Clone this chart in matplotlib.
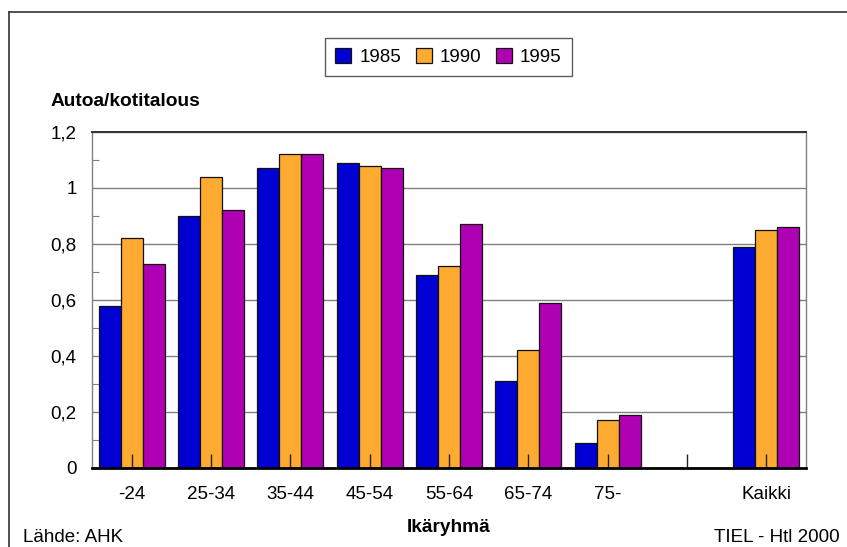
import matplotlib
matplotlib.use("Agg")
import matplotlib.pyplot as plt
import numpy as np
from matplotlib.ticker import MultipleLocator, FuncFormatter
from matplotlib.lines import Line2D

plt.rcParams['font.family'] = ['Liberation Sans', 'DejaVu Sans']

categories = ["-24", "25-34", "35-44", "45-54", "55-64", "65-74", "75-", "", "Kaikki"]
years = ["1985", "1990", "1995"]
v1985 = [0.58, 0.90, 1.07, 1.09, 0.69, 0.31, 0.09, 0.0, 0.79]
v1990 = [0.82, 1.04, 1.12, 1.08, 0.72, 0.42, 0.17, 0.0, 0.85]
v1995 = [0.73, 0.92, 1.12, 1.07, 0.87, 0.59, 0.19, 0.0, 0.86]
colors = ["#0000D2", "#FFAA30", "#B000B4"]

FS = 13.5
FSB = 13.8

fig = plt.figure(figsize=(8.47, 5.47), dpi=100)
ax = fig.add_axes([92/847, 1 - 468/547, (806-92)/847, (468-132)/547])

x = np.arange(len(categories))
w = 0.276
for i, (vals, c, lab) in enumerate(zip([v1985, v1990, v1995], colors, years)):
    ax.bar(x + (i - 1) * w, vals, width=w, color=c, edgecolor="#111111",
           linewidth=0.9, label=lab, zorder=3)

ax.set_xlim(-0.5, len(categories) - 0.5)
ax.set_ylim(0, 1.2)
ax.yaxis.set_major_locator(MultipleLocator(0.2))
ax.yaxis.set_minor_locator(MultipleLocator(0.1))
ax.yaxis.set_major_formatter(FuncFormatter(lambda v, p: "0" if abs(v) < 1e-9 else
                                           ("1" if abs(v - 1) < 1e-9 else f"{v:.1f}".replace(".", ","))))
ax.set_axisbelow(True)
ax.grid(axis="y", which="major", color="#808080", linewidth=1.0)
ax.tick_params(axis="y", which="both", direction="in", length=5, width=0.8,
               color="#808080", labelsize=FS, pad=11)
ax.tick_params(axis="y", which="major", length=0)
ax.set_xticks(x)
ax.set_xticklabels(categories)
ax.tick_params(axis="x", direction="in", length=10, width=1.0, color="#222222",
               labelsize=FS, pad=13)
# category ticks drawn on top of the bars
ax.xaxis.set_zorder(4)

for s in ["left", "right"]:
    ax.spines[s].set_color("#808080")
    ax.spines[s].set_linewidth(1.0)
ax.spines["top"].set_color("#333333")
ax.spines["top"].set_linewidth(1.4)
ax.spines["bottom"].set_color("#000000")
ax.spines["bottom"].set_linewidth(2.0)
ax.spines["bottom"].set_zorder(5)

leg = ax.legend(loc="center", bbox_to_anchor=((448.5-92)/(806-92), (468-57)/(468-132)),
                bbox_transform=ax.transAxes, ncol=3, frameon=True, fontsize=FS,
                handlelength=0.85, handleheight=0.85, handletextpad=0.45,
                columnspacing=0.75, borderpad=0.55, fancybox=False)
leg.get_frame().set_edgecolor("#333333")
leg.get_frame().set_linewidth(1.0)

fig.text(51/847, 1 - 101/547, "Autoa/kotitalous", fontsize=FSB, fontweight="bold",
         ha="left", va="center")
fig.text(448.5/847, 1 - 527/547, "Ikäryhmä", fontsize=FSB, fontweight="bold",
         ha="center", va="center")
fig.text(23/847, 1 - 537/547, "Lähde: AHK", fontsize=FS, ha="left", va="center")
fig.text(840/847, 1 - 537/547, "TIEL - Htl 2000", fontsize=FS, ha="right", va="center")

# outer frame (left and top edges)
fig.add_artist(Line2D([9/847, 9/847], [0, 1 - 11.5/547], transform=fig.transFigure,
                      color="#333333", linewidth=1.2))
fig.add_artist(Line2D([9/847, 1], [1 - 11.5/547, 1 - 11.5/547], transform=fig.transFigure,
                      color="#333333", linewidth=1.2))

fig.savefig("out.png", dpi=100, facecolor="white")
